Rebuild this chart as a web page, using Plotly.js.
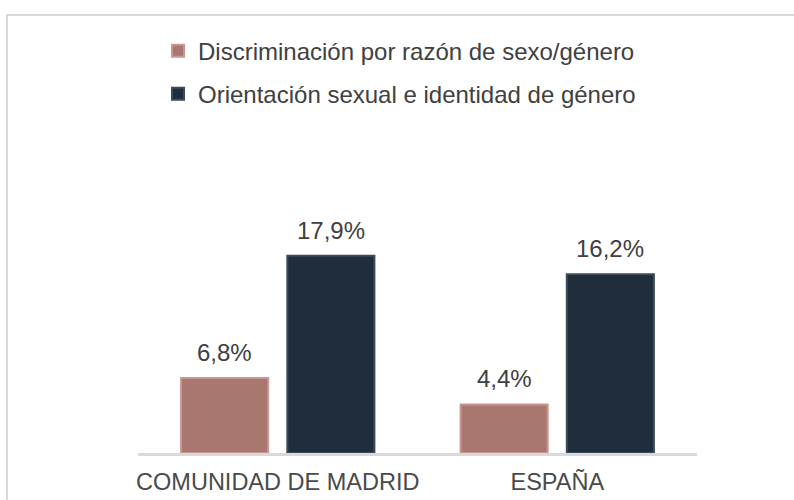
<!DOCTYPE html>
<html>
<head>
<meta charset="utf-8">
<script src="https://cdn.plot.ly/plotly-3.0.1.min.js"></script>
<style>
  html, body { margin: 0; padding: 0; background: #ffffff; overflow: hidden; }
  #frame { position: absolute; left: 6px; top: 14px; width: 820px; height: 520px;
           border: 2px solid #D9D9D9; box-sizing: border-box; }
  #chart { position: absolute; left: 0; top: 0; width: 794px; height: 500px; }
</style>
</head>
<body>
<div id="frame"></div>
<div id="chart"></div>
<script>
const categories = ["COMUNIDAD DE MADRID", "ESPAÑA"];
const seriesNames = ["Discriminación por razón de sexo/género", "Orientación sexual e identidad de género"];
const sexoGenero = [6.8, 4.4];
const orientacion = [17.9, 16.2];
const labelsSexo = ["6,8%", "4,4%"];
const labelsOrient = ["17,9%", "16,2%"];

const pink = "#A87870", pinkEdge = "#C9978F";
const navy = "#202D3A", navyEdge = "#3A4B5D";
const textColor = "#404040";
const FONT = "Liberation Sans, Arial, sans-serif";

const traces = [
  { type: "bar", name: seriesNames[0], x: categories, y: sexoGenero,
    marker: { color: pink, line: { color: pinkEdge, width: 2 } },
    legendgroup: "a", hoverinfo: "none" },
  { type: "bar", name: seriesNames[1], x: categories, y: orientacion,
    marker: { color: navy, line: { color: navyEdge, width: 2 } },
    legendgroup: "b", hoverinfo: "none" }
];

const slotShift = 53;
const annotations = [];
categories.forEach((c, i) => {
  annotations.push({ x: c, y: sexoGenero[i], xref: "x", yref: "y", text: labelsSexo[i],
    showarrow: false, xshift: -slotShift, yshift: 10, yanchor: "bottom",
    font: { family: FONT, size: 24, color: textColor } });
  annotations.push({ x: c, y: orientacion[i], xref: "x", yref: "y", text: labelsOrient[i],
    showarrow: false, xshift: slotShift, yshift: 10, yanchor: "bottom",
    font: { family: FONT, size: 24, color: textColor } });
});

const layout = {
  width: 794, height: 500,
  margin: { l: 138, r: 97, t: 34, b: 47 },
  paper_bgcolor: "rgba(0,0,0,0)", plot_bgcolor: "rgba(0,0,0,0)",
  barmode: "group", bargap: 0.24, bargroupgap: 0.18,
  font: { family: FONT, color: textColor, size: 23.5 },
  xaxis: { showline: true, linecolor: "#D9D9D9", linewidth: 3, ticks: "",
           ticklabelstandoff: 6,
           showgrid: false, zeroline: false, tickfont: { family: FONT, size: 23.5, color: "#4A4A4A" } },
  yaxis: { range: [0, 38], visible: false, showgrid: false, zeroline: false },
  showlegend: true,
  legend: { x: (158 - 138) / 559, xanchor: "left", y: 1.013, yanchor: "top",
            traceorder: "grouped", tracegroupgap: 9, bgcolor: "rgba(0,0,0,0)",
            font: { family: FONT, size: 24, color: textColor } },
  annotations: annotations
};

Plotly.newPlot("chart", traces, layout, { displayModeBar: false, staticPlot: true });
</script>
</body>
</html>
